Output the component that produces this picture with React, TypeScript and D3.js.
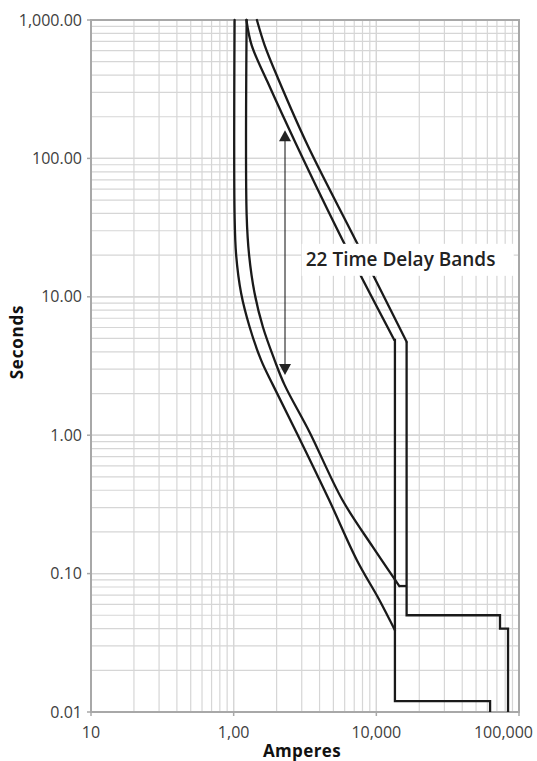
import React from 'react'
import * as d3 from 'd3'

const W = 537
const H = 761
const margin = { top: 20, right: 18, bottom: 49, left: 91 }

// axis ticks (labels as printed on the original sheet)
const xTickValues = [100, 1000, 10000, 100000]
const xTickLabels = ['10', '1,00', '10,000', '100,000']
const yTickValues = [0.01, 0.1, 1, 10, 100, 1000]
const yTickLabels = ['0.01', '0.10', '1.00', '10.00', '100.00', '1,000.00']

// [amperes, seconds]
const minLongTime: [number, number][] = [
  [1015, 1000], [1015, 39], [1041, 20], [1128, 10.6], [1294, 6.05], [1557, 3.49],
  [1883, 2.31], [2818, 1.0], [4670, 0.34], [7307, 0.125], [10500, 0.0645], [13500, 0.039],
]

const maxLongTime: [number, number][] = [
  [1233, 1000], [1233, 39], [1283, 20], [1402, 10.6], [1603, 6.05], [1935, 3.49],
  [2274, 2.31], [3399, 1.055], [5786, 0.34], [9420, 0.1565], [14490, 0.0813],
]
const maxLongTimeStep: [number, number][] = [[14490, 0.0813], [16300, 0.0813]]

const minDelayCurve: [number, number][] = [
  [1228, 1000], [1336, 659], [1729, 356], [2758, 125], [5878, 25.0], [13360, 4.88],
]
const minDelayStep: [number, number][] = [
  [13360, 4.88], [13500, 4.88], [13500, 0.012], [62700, 0.012], [62700, 0.01],
]

const maxDelayCurve: [number, number][] = [
  [1455, 1000], [1647, 659], [2040, 381], [3291, 125], [7247, 25.0], [16300, 4.74],
]
const maxDelayStep: [number, number][] = [
  [16300, 4.74], [16300, 0.05], [73600, 0.05], [73600, 0.04], [83800, 0.04], [83800, 0.01],
]

const smoothParts = [minLongTime, maxLongTime, minDelayCurve, maxDelayCurve]
const stepParts = [maxLongTimeStep, minDelayStep, maxDelayStep]

// annotation: arrow spanning the delay bands
const arrowX = 2290
const arrowTop = 160
const arrowBottom = 2.72
const labelText = '22 Time Delay Bands'
const labelX = 3200
const labelY = 18.5

export default function App() {
  const x = d3.scaleLog().domain([100, 100000]).range([margin.left, W - margin.right])
  const y = d3.scaleLog().domain([0.01, 1000]).range([H - margin.bottom, margin.top])

  const xMinor: number[] = []
  for (let d = 100; d < 100000; d *= 10) for (let k = 1; k <= 10; k++) xMinor.push(d * k)
  const yMinor: number[] = []
  for (let d = 0.01; d < 999; d *= 10) for (let k = 1; k <= 10; k++) yMinor.push(d * k)

  const smooth = d3.line<[number, number]>().x(d => x(d[0])).y(d => y(d[1])).curve(d3.curveCatmullRom.alpha(0.5))
  const straight = d3.line<[number, number]>().x(d => x(d[0])).y(d => y(d[1]))

  const x0 = x.range()[0], x1 = x.range()[1]
  const y0 = y.range()[0], y1 = y.range()[1]
  const ax = x(arrowX)
  const at = y(arrowTop)
  const ab = y(arrowBottom)

  return (
    <svg width={W} height={H} style={{ position: 'absolute', left: 0, top: 0, background: '#fff' }}
      fontFamily="'Open Sans', sans-serif">
      <g stroke="#d6d6d6" strokeWidth={1.2}>
        {xMinor.map((v, i) => <line key={'gx' + i} x1={x(v)} x2={x(v)} y1={y1} y2={y0} />)}
        {yMinor.map((v, i) => <line key={'gy' + i} x1={x0} x2={x1} y1={y(v)} y2={y(v)} />)}
      </g>
      <rect x={x0} y={y1} width={x1 - x0} height={y0 - y1} fill="none" stroke="#a8a8a8" strokeWidth={2} />
      <g stroke="#a8a8a8" strokeWidth={1.5}>
        {yTickValues.map((v, i) => <line key={'ty' + i} x1={x0 - 4} x2={x0} y1={y(v)} y2={y(v)} />)}
        {xTickValues.map((v, i) => <line key={'tx' + i} x1={x(v)} x2={x(v)} y1={y0} y2={y0 + 4} />)}
      </g>
      <g fill="#404040" fontSize={16}>
        {yTickValues.map((v, i) => (
          <text key={'ly' + i} x={x0 - 9} y={y(v)} dy="0.35em" textAnchor="end">{yTickLabels[i]}</text>
        ))}
        {xTickValues.map((v, i) => {
          const last = i === xTickValues.length - 1
          return (
            <text key={'lx' + i} x={last ? W - 4 : x(v)} y={y0 + 26} textAnchor={last ? 'end' : 'middle'}>
              {xTickLabels[i]}
            </text>
          )
        })}
      </g>
      <text x={302} y={757} textAnchor="middle" fontSize={17} fontWeight={700} letterSpacing={0.4} fill="#111">Amperes</text>
      <text transform={`translate(23,${342}) rotate(-90)`} textAnchor="middle" fontSize={17} fontWeight={700} letterSpacing={0.8} fill="#111">Seconds</text>

      <g fill="none" stroke="#1a1a1a" strokeWidth={2.3} strokeLinejoin="round" strokeLinecap="round">
        {smoothParts.map((c, i) => <path key={'s' + i} d={smooth(c) || ''} />)}
        {stepParts.map((c, i) => <path key={'p' + i} d={straight(c) || ''} strokeLinejoin="miter" strokeLinecap="butt" />)}
      </g>

      <line x1={ax} x2={ax} y1={at + 8} y2={ab - 8} stroke="#222" strokeWidth={1.1} />
      <path d={`M${ax},${at} L${ax - 6},${at + 11} L${ax + 6},${at + 11} Z`} fill="#222" />
      <path d={`M${ax},${ab} L${ax - 6},${ab - 11} L${ax + 6},${ab - 11} Z`} fill="#222" />

      <rect x={x(labelX) - 4} y={y(labelY) - 16} width={212} height={32} fill="#fff" />
      <text x={x(labelX)} y={y(labelY)} dy="0.35em" fontSize={19} fontWeight={600} fill="#222">{labelText}</text>
    </svg>
  )
}
